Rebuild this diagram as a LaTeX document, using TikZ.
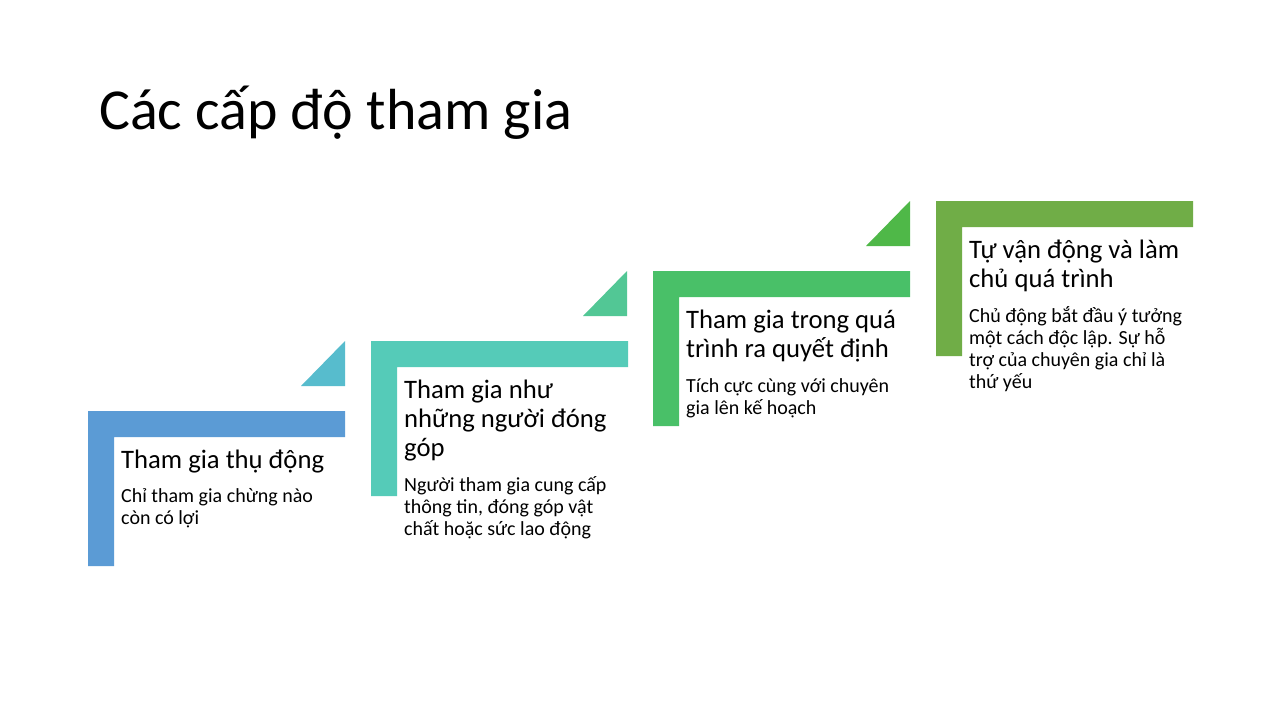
\documentclass[tikz,border=0pt]{standalone}
\usepackage{fontspec}
\setmainfont{Carlito}
\definecolor{cL1}{HTML}{5B9BD5}
\definecolor{cT1}{HTML}{57BCCD}
\definecolor{cL2}{HTML}{55CBB8}
\definecolor{cT2}{HTML}{52C795}
\definecolor{cL3}{HTML}{49C068}
\definecolor{cT3}{HTML}{4FB848}
\definecolor{cL4}{HTML}{70AD47}
\newcommand\hdtext[1]{\parbox[t]{300pt}{\raggedright\fontsize{26.67}{29.33}\selectfont #1}}
\newcommand\bdtext[1]{\parbox[t]{300pt}{\raggedright\fontsize{20}{22}\selectfont #1}}
\begin{document}
\begin{tikzpicture}[x=1pt,y=-1pt,
  txt/.style={inner sep=0pt, anchor=base west, text=black},
  lbar/.style={fill=#1, draw=none},
  tri/.style={fill=#1, draw=none}]
\useasboundingbox (0,0) rectangle (1280,720);
\fill[white] (0,0) rectangle (1280,720);
% title
\node[txt] (title) at (99,129) {\fontsize{58}{70}\selectfont Các cấp độ tham gia};
% step L-shapes
\foreach \x/\y/\cl in {88/411/cL1, 371/341/cL2, 653/271/cL3, 936/201/cL4}{
  \path[lbar=\cl] (\x,\y) -- ++(257,0) -- ++(0,26) -- ++(-231,0) -- ++(0,129) -- ++(-26,0) -- cycle;
}
% triangles
\path[tri=cT1] (345,386) -- (345,341) -- (301,386) -- cycle;
\path[tri=cT2] (627,316) -- (627,271) -- (583,316) -- cycle;
\path[tri=cT3] (910,246) -- (910,201) -- (866,246) -- cycle;
% step 1
\node[txt] (h1) at (121,468) {\hdtext{Tham gia thụ động}};
\node[txt] (b1) at (121,502) {\bdtext{Chỉ tham gia chừng nào\\còn có lợi}};
% step 2
\node[txt] (h2) at (404,398) {\hdtext{Tham gia như\\những người đóng\\góp}};
\node[txt] (b2) at (404,491) {\bdtext{Người tham gia cung cấp\\thông tin, đóng góp vật\\chất hoặc sức lao động}};
% step 3
\node[txt] (h3) at (686,328) {\hdtext{Tham gia trong quá\\trình ra quyết định}};
\node[txt] (b3) at (686,392) {\bdtext{Tích cực cùng với chuyên\\gia lên kế hoạch}};
% step 4
\node[txt] (h4) at (969,258) {\hdtext{Tự vận động và làm\\chủ quá trình}};
\node[txt] (b4) at (969,322) {\bdtext{Chủ động bắt đầu ý tưởng\\một cách độc lập. Sự hỗ\\trợ của chuyên gia chỉ là\\thứ yếu}};
\end{tikzpicture}
\end{document}
